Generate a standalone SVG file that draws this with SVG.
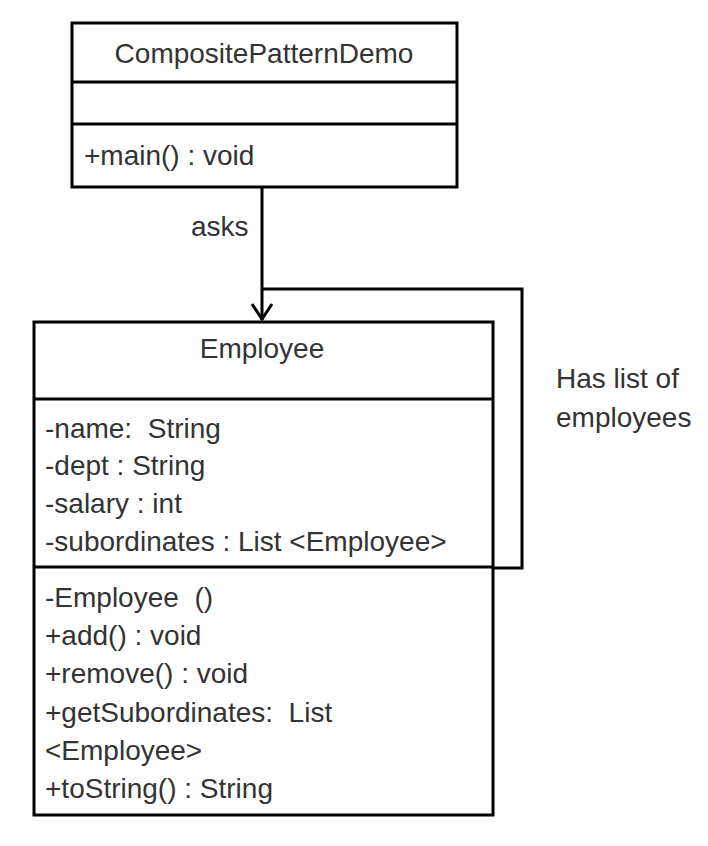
<svg xmlns="http://www.w3.org/2000/svg" width="708" height="846" viewBox="0 0 708 846">
<style>
.box{fill:#fff;stroke:#000;stroke-width:3}
.div{stroke:#000;stroke-width:3}
.t{font-family:"Liberation Sans",Arial,sans-serif;font-size:28px;fill:#333;white-space:pre}
.c{text-anchor:middle}
.conn{fill:none;stroke:#000;stroke-width:3}
</style>
<rect width="708" height="846" fill="#fff"/>
<g id="connectors">
<line class="conn" x1="262" y1="187" x2="262" y2="320"/>
<polyline class="conn" points="252,304 262,319 272,304"/>
<polyline class="conn" points="262,289 522,289 522,568 493,568"/>
<text class="t" x="191" y="236">asks</text>
<text class="t" x="556" y="388">Has list of</text>
<text class="t" x="556" y="427">employees</text>
</g>
<g id="CompositePatternDemo">
<rect class="box" x="72" y="23" width="385" height="164"/>
<line class="div" x1="72" y1="82" x2="457" y2="82"/>
<line class="div" x1="72" y1="124" x2="457" y2="124"/>
<text class="t c" x="264" y="63">CompositePatternDemo</text>
<text class="t" x="84" y="165">+main() : void</text>
</g>
<g id="Employee">
<rect class="box" x="34" y="322" width="459" height="493"/>
<line class="div" x1="34" y1="399" x2="493" y2="399"/>
<line class="div" x1="34" y1="567" x2="493" y2="567"/>
<text class="t c" x="262" y="358">Employee</text>
<text class="t" x="45" y="438" xml:space="preserve">-name:  String</text>
<text class="t" x="45" y="475">-dept : String</text>
<text class="t" x="45" y="513">-salary : int</text>
<text class="t" x="45" y="551">-subordinates : List &lt;Employee&gt;</text>
<text class="t" x="45" y="607" xml:space="preserve">-Employee  ()</text>
<text class="t" x="45" y="645">+add() : void</text>
<text class="t" x="45" y="683">+remove() : void</text>
<text class="t" x="45" y="722" xml:space="preserve">+getSubordinates:  List</text>
<text class="t" x="45" y="760">&lt;Employee&gt;</text>
<text class="t" x="45" y="798">+toString() : String</text>
</g>
</svg>
